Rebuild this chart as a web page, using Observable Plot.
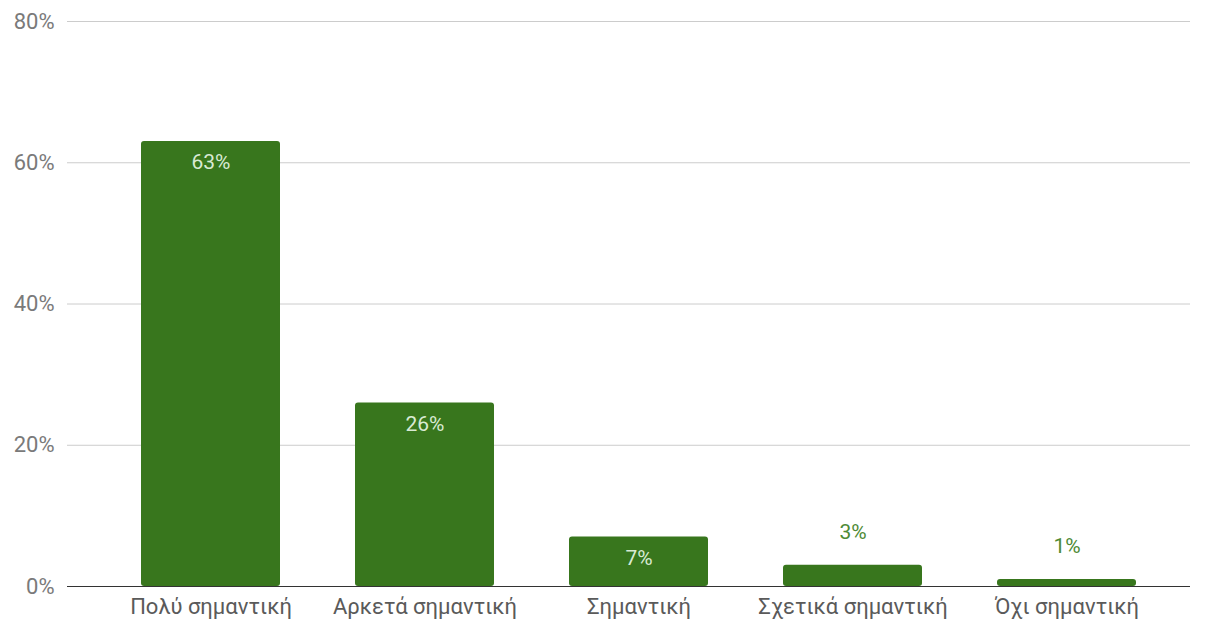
<!DOCTYPE html>
<html>
<head>
<meta charset="utf-8">
<script src="https://cdn.jsdelivr.net/npm/d3@7"></script>
<script src="https://cdn.jsdelivr.net/npm/@observablehq/plot@0.6"></script>
<style>
  html, body { margin: 0; padding: 0; background: #fff; }
  #chart { width: 1208px; height: 620px; }
</style>
</head>
<body>
<div id="chart"></div>
<script>
const categories = ["Πολύ σημαντική", "Αρκετά σημαντική", "Σημαντική", "Σχετικά σημαντική", "Όχι σημαντική"];
const values = [63, 26, 7, 3, 1];
const yTicks = [0, 20, 40, 60, 80];

const data = categories.map((c, i) => ({ cat: c, value: values[i] / 100 }));
const inside = data.filter(d => d.value >= 0.05);
const outside = data.filter(d => d.value < 0.05);

const barColor = "#38761d";
const fs = 22;

const chart = Plot.plot({
  width: 1208,
  height: 620,
  marginLeft: 67,
  marginRight: 18,
  marginTop: 21,
  marginBottom: 34,
  style: { fontFamily: "Roboto, sans-serif", fontSize: fs + "px", background: "#fff" },
  x: {
    domain: categories,
    paddingInner: 0.35,
    paddingOuter: 0.252,
    insetLeft: 20,
    label: null,
    axis: null
  },
  y: {
    domain: [0, 0.8],
    label: null,
    axis: null
  },
  marks: [
    Plot.ruleY(yTicks.slice(1).map(t => t / 100), { stroke: "#cccccc", strokeWidth: 1 }),
    Plot.barY(data, { x: "cat", y: "value", fill: barColor, rx: 3 }),
    Plot.ruleY([0], { stroke: "#333333", strokeWidth: 1.2 }),
    Plot.text(inside, { x: "cat", y: "value", text: d => d3.format(".0%")(d.value), dy: 21, fill: "#d9ead3", fontSize: fs - 1 }),
    Plot.text(outside, { x: "cat", y: "value", text: d => d3.format(".0%")(d.value), dy: -33, fill: "#4e8a35", fontSize: fs - 1 }),
    Plot.axisY({ ticks: yTicks.map(t => t / 100), tickFormat: d3.format(".0%"), tickSize: 0, tickPadding: 13, color: "#7a7a7a", fontSize: fs, label: null }),
    Plot.axisX({ tickSize: 0, tickPadding: 12, color: "#5a5a5a", fontSize: fs, label: null })
  ]
});
document.getElementById("chart").appendChild(chart);
</script>
</body>
</html>
